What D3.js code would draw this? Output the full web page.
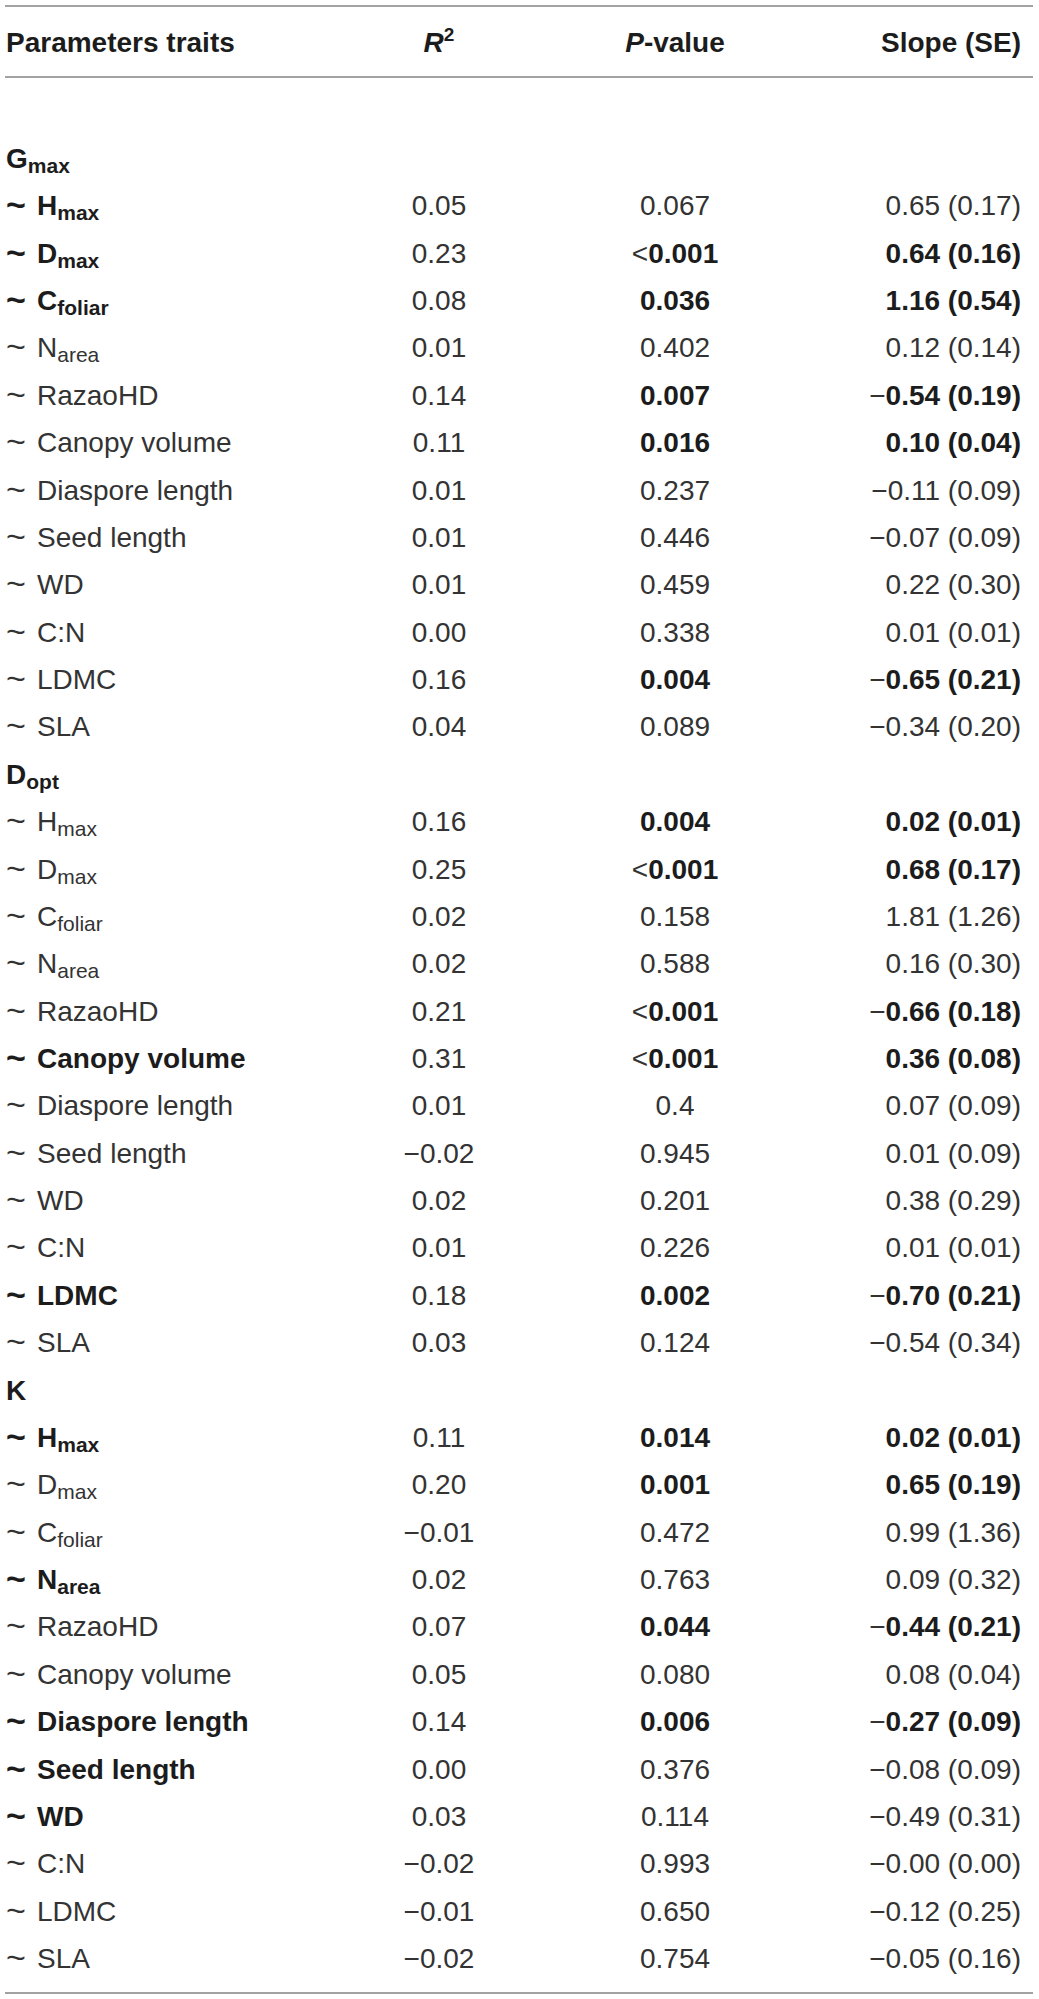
<!DOCTYPE html>
<html><head><meta charset="utf-8">
<script src="https://cdn.jsdelivr.net/npm/d3@7"></script>
<style>body{margin:0;background:#fff}</style>
</head><body><svg id="c"></svg>
<script>
// ---- data ----
const columns = ["Parameters traits", "R2", "P-value", "Slope (SE)"];
const groupNames = [["G", "max"], ["D", "opt"], ["K", ""]];
const traitNames = [["H", "max"], ["D", "max"], ["C", "foliar"], ["N", "area"], ["RazaoHD", ""], ["Canopy volume", ""],
  ["Diaspore length", ""], ["Seed length", ""], ["WD", ""], ["C:N", ""], ["LDMC", ""], ["SLA", ""]];
const r2Gmax = ["0.05","0.23","0.08","0.01","0.14","0.11","0.01","0.01","0.01","0.00","0.16","0.04"];
const r2Dopt = ["0.16","0.25","0.02","0.02","0.21","0.31","0.01","-0.02","0.02","0.01","0.18","0.03"];
const r2K    = ["0.11","0.20","-0.01","0.02","0.07","0.05","0.14","0.00","0.03","-0.02","-0.01","-0.02"];
const pGmax = ["0.067","<0.001","0.036","0.402","0.007","0.016","0.237","0.446","0.459","0.338","0.004","0.089"];
const pDopt = ["0.004","<0.001","0.158","0.588","<0.001","<0.001","0.4","0.945","0.201","0.226","0.002","0.124"];
const pK    = ["0.014","0.001","0.472","0.763","0.044","0.080","0.006","0.376","0.114","0.993","0.650","0.754"];
const slopeGmax = ["0.65","0.64","1.16","0.12","-0.54","0.10","-0.11","-0.07","0.22","0.01","-0.65","-0.34"];
const seGmax    = ["0.17","0.16","0.54","0.14","0.19","0.04","0.09","0.09","0.30","0.01","0.21","0.20"];
const slopeDopt = ["0.02","0.68","1.81","0.16","-0.66","0.36","0.07","0.01","0.38","0.01","-0.70","-0.54"];
const seDopt    = ["0.01","0.17","1.26","0.30","0.18","0.08","0.09","0.09","0.29","0.01","0.21","0.34"];
const slopeK    = ["0.02","0.65","0.99","0.09","-0.44","0.08","-0.27","-0.08","-0.49","-0.00","-0.12","-0.05"];
const seK       = ["0.01","0.19","1.36","0.32","0.21","0.04","0.09","0.09","0.31","0.00","0.25","0.16"];
const boldLabelGmax = [1,1,1,0,0,0,0,0,0,0,0,0];
const boldLabelDopt = [0,0,0,0,0,1,0,0,0,0,1,0];
const boldLabelK    = [1,0,0,1,0,0,1,1,1,0,0,0];

const r2All = [r2Gmax, r2Dopt, r2K];
const pAll = [pGmax, pDopt, pK];
const slopeAll = [slopeGmax, slopeDopt, slopeK];
const seAll = [seGmax, seDopt, seK];
const boldAll = [boldLabelGmax, boldLabelDopt, boldLabelK];

// build rows
const rows = [];
groupNames.forEach((g, gi) => {
  rows.push({type: "group", label: g});
  traitNames.forEach((t, ti) => {
    const p = pAll[gi][ti];
    rows.push({type: "trait", label: t, labelBold: !!boldAll[gi][ti], r2: r2All[gi][ti], p: p,
      slope: slopeAll[gi][ti], se: seAll[gi][ti], sig: parseFloat(p.replace("<", "")) < 0.05});
  });
});

// ---- layout ----
const W = 1039, H = 1999;
const FONT = "'Liberation Sans', Arial, Helvetica, sans-serif";
const FS = 28, SUB = 21;
const REG = "#333333", BOLD = "#1c1c1c";
const svg = d3.select("#c").attr("width", W).attr("height", H).style("font-family", FONT);
const y = d3.scaleLinear().domain([0, rows.length - 1]).range([168, 1968]);
const x = d3.scaleOrdinal().domain(columns).range([6, 439, 675, 1021]);
const anchor = d3.scaleOrdinal().domain(columns).range(["start", "middle", "middle", "end"]);
const labelX = 37;

// rules
const rules = [6, 77, 1993];
svg.selectAll("line.rule").data(rules).join("line").attr("class", "rule")
  .attr("x1", 5).attr("x2", 1033).attr("y1", d => d).attr("y2", d => d)
  .attr("stroke", "#a3a3a3").attr("stroke-width", 2);

// header
const hy = 52;
function headerText(col) {
  return svg.append("text").attr("x", x(col)).attr("y", hy).attr("text-anchor", anchor(col))
    .attr("font-size", FS).attr("font-weight", "bold").attr("fill", BOLD);
}
headerText(columns[0]).text("Parameters traits");
{
  const t = headerText(columns[1]);
  t.append("tspan").attr("font-style", "italic").text("R");
  t.append("tspan").attr("font-size", 19).attr("dy", -11).text("2");
}
{
  const t = headerText(columns[2]);
  t.append("tspan").attr("font-style", "italic").text("P");
  t.append("tspan").text("-value");
}
headerText(columns[3]).text("Slope (SE)");

// value helper: minus sign always regular weight
function addValue(t, str, bold) {
  if (str.startsWith("-")) {
    t.append("tspan").attr("font-weight", "normal").attr("fill", REG).text("\u2212");
    str = str.slice(1);
  }
  t.append("tspan").attr("font-weight", bold ? "bold" : "normal").attr("fill", bold ? BOLD : REG).text(str);
}

rows.forEach((r, i) => {
  const yy = y(i);
  if (r.type === "group") {
    const t = svg.append("text").attr("x", x(columns[0])).attr("y", yy).attr("font-size", FS)
      .attr("font-weight", "bold").attr("fill", BOLD);
    t.append("tspan").text(r.label[0]);
    if (r.label[1]) t.append("tspan").attr("font-size", SUB).attr("dy", 5).text(r.label[1]);
    return;
  }
  const lb = r.labelBold;
  // tilde
  svg.append("text").attr("x", x(columns[0])).attr("y", yy + 1).attr("font-size", 34)
    .attr("font-weight", lb ? "bold" : "normal").attr("fill", lb ? BOLD : REG).text("~");
  const t = svg.append("text").attr("x", labelX).attr("y", yy).attr("font-size", FS)
    .attr("font-weight", lb ? "bold" : "normal").attr("fill", lb ? BOLD : REG);
  t.append("tspan").text(r.label[0]);
  if (r.label[1]) t.append("tspan").attr("font-size", SUB).attr("dy", 5).text(r.label[1]);

  const t1 = svg.append("text").attr("x", x(columns[1])).attr("y", yy).attr("font-size", FS)
    .attr("text-anchor", anchor(columns[1]));
  addValue(t1, r.r2, false);

  const t2 = svg.append("text").attr("x", x(columns[2])).attr("y", yy).attr("font-size", FS)
    .attr("text-anchor", anchor(columns[2]));
  if (r.p.startsWith("<")) {
    t2.append("tspan").attr("font-weight", "normal").attr("fill", REG).text("<");
    t2.append("tspan").attr("font-weight", r.sig ? "bold" : "normal").attr("fill", r.sig ? BOLD : REG).text(r.p.slice(1));
  } else addValue(t2, r.p, r.sig);

  const t3 = svg.append("text").attr("x", x(columns[3])).attr("y", yy).attr("font-size", FS)
    .attr("text-anchor", anchor(columns[3]));
  addValue(t3, r.slope + " (" + r.se + ")", r.sig);
});
</script></body></html>
